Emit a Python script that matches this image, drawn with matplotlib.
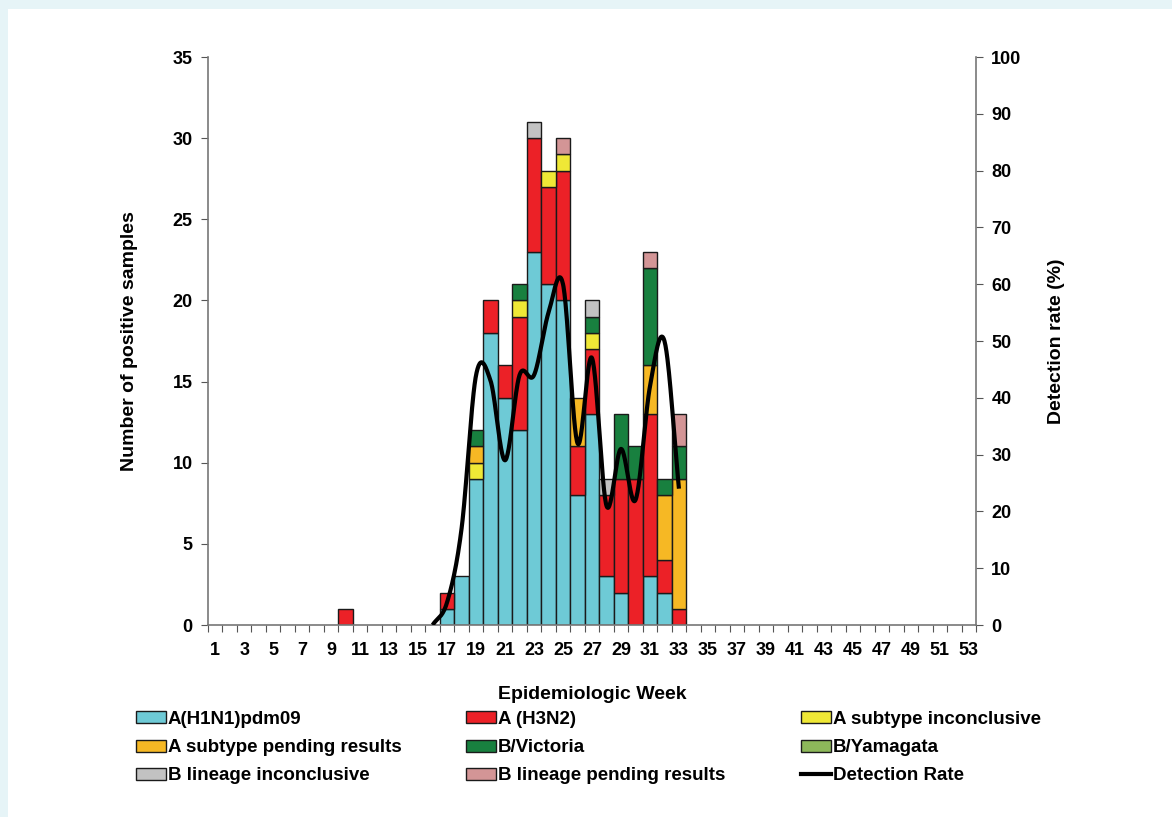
import numpy as np
import matplotlib.pyplot as plt
from matplotlib.patches import Patch, Rectangle
from matplotlib.lines import Line2D

plt.rcParams['font.family'] = ['Liberation Sans', 'DejaVu Sans']
plt.rcParams['font.weight'] = 'bold'

# weeks 1..53, counts only non-zero for the weeks below
weeks = np.arange(1, 54)
data_weeks = [10, 17, 18, 19, 20, 21, 22, 23, 24, 25, 26, 27, 28, 29, 30, 31, 32, 33]
h1n1 =        [0, 1, 3, 9, 18, 14, 12, 23, 21, 20, 8, 13, 3, 2, 0, 3, 2, 0]
h3n2 =        [1, 1, 0, 0, 2, 2, 7, 7, 6, 8, 3, 4, 5, 7, 9, 10, 2, 1]
a_inconcl =   [0, 0, 0, 1, 0, 0, 1, 0, 1, 1, 0, 1, 0, 0, 0, 0, 0, 0]
a_pending =   [0, 0, 0, 1, 0, 0, 0, 0, 0, 0, 3, 0, 0, 0, 0, 3, 4, 8]
b_victoria =  [0, 0, 0, 1, 0, 0, 1, 0, 0, 0, 0, 1, 0, 4, 2, 6, 1, 2]
b_yamagata =  [0, 0, 0, 0, 0, 0, 0, 0, 0, 0, 0, 0, 0, 0, 0, 0, 0, 0]
b_inconcl =   [0, 0, 0, 0, 0, 0, 0, 1, 0, 0, 0, 1, 1, 0, 0, 0, 0, 0]
b_pending =   [0, 0, 0, 0, 0, 0, 0, 0, 0, 1, 0, 0, 0, 0, 0, 1, 0, 2]

rate_weeks = [16, 17, 18, 19, 20, 21, 22, 23, 24, 25, 26, 27, 28, 29, 30, 31, 32, 33]
rate =       [0, 4, 17, 44, 43, 29, 44, 44, 55, 60, 32, 47, 21, 31, 22, 42, 50, 24]

series = [
    ('A(H1N1)pdm09', h1n1, '#6ecad6'),
    ('A (H3N2)', h3n2, '#ec2127'),
    ('A subtype inconclusive', a_inconcl, '#efe836'),
    ('A subtype pending results', a_pending, '#f6b824'),
    ('B/Victoria', b_victoria, '#18803f'),
    ('B/Yamagata', b_yamagata, '#8db85a'),
    ('B lineage inconclusive', b_inconcl, '#c2c2c2'),
    ('B lineage pending results', b_pending, '#d39596'),
]

fig = plt.figure(figsize=(11.72, 8.17), dpi=100)
fig.patch.set_facecolor('#e6f4f7')
fig.patches.append(Rectangle((8 / 1172, 0), 1, 1 - 9 / 817, transform=fig.transFigure,
                             facecolor='white', edgecolor='none', zorder=-1))

ax = fig.add_axes([208 / 1172, 1 - 625 / 817, (976 - 208) / 1172, (625 - 57) / 817])
ax.set_facecolor('white')

bottom = np.zeros(len(data_weeks))
for name, vals, col in series:
    vals = np.array(vals, dtype=float)
    m = vals > 0
    ax.bar(np.array(data_weeks)[m], vals[m], width=1.0, bottom=bottom[m], color=col,
           edgecolor='#1a1a1a', linewidth=1.0, zorder=2)
    bottom += vals

ax.set_xlim(0.5, 53.5)
ax.set_ylim(0, 35)
ax.set_yticks(range(0, 36, 5))
ax.set_xticks(np.arange(0.5, 54, 1))
ax.set_xticklabels([])
ax.set_xticks(weeks[::2], minor=True)
ax.set_xticklabels([str(w) for w in weeks[::2]], minor=True)
ax.tick_params(axis='x', which='minor', length=0, pad=12, labelsize=13)
ax.tick_params(axis='x', which='major', length=5, color='#555555')
ax.tick_params(axis='y', length=5, color='#555555', labelsize=13, pad=6)
for s in ['top', 'right']:
    ax.spines[s].set_visible(False)
for s in ['left', 'bottom']:
    ax.spines[s].set_color('#777777')
    ax.spines[s].set_linewidth(1.2)
ax.set_ylabel('Number of positive samples', fontsize=14, fontweight='bold', labelpad=25)
ax.set_xlabel('Epidemiologic Week', fontsize=14, fontweight='bold', labelpad=20)

# secondary axis, smoothed detection rate line
ax2 = ax.twinx()
ax2.set_ylim(0, 100)
ax2.set_yticks(range(0, 101, 10))
ax2.tick_params(axis='y', length=5, color='#555555', labelsize=13, pad=6)
for s in ['top', 'left', 'bottom']:
    ax2.spines[s].set_visible(False)
ax2.spines['right'].set_color('#777777')
ax2.spines['right'].set_linewidth(1.2)
ax2.set_ylabel('Detection rate (%)', fontsize=14, fontweight='bold', labelpad=19)

# Catmull-Rom smoothing like the spreadsheet "smoothed line"
px = np.array(rate_weeks, dtype=float)
py = np.array(rate, dtype=float)
P = np.column_stack([px, py])
P = np.vstack([P[0] - (P[1] - P[0]), P, P[-1] + (P[-1] - P[-2])])
cx, cy = [], []
t = np.linspace(0, 1, 30)
for i in range(1, len(P) - 2):
    p0, p1, p2, p3 = P[i - 1], P[i], P[i + 1], P[i + 2]
    for tt in t:
        pt = 0.5 * ((2 * p1) + (-p0 + p2) * tt + (2 * p0 - 5 * p1 + 4 * p2 - p3) * tt ** 2
                    + (-p0 + 3 * p1 - 3 * p2 + p3) * tt ** 3)
        cx.append(pt[0])
        cy.append(pt[1])
ax2.plot(cx, np.clip(cy, 0, None), color='black', linewidth=3.0, zorder=5,
         solid_capstyle='butt')

# legend in three columns
handles = []
for name, vals, col in series:
    handles.append(Patch(facecolor=col, edgecolor='#1a1a1a', linewidth=1.0, label=name))
handles.append(Line2D([0], [0], color='black', linewidth=3, label='Detection Rate'))

cols = [[0, 3, 6], [1, 4, 7], [2, 5, 8]]
xpos = [136, 466, 801]
for c, xp in zip(cols, xpos):
    leg = fig.legend([handles[i] for i in c], [handles[i].get_label() for i in c],
                     loc='upper left', bbox_to_anchor=(xp / 1172, 1 - 711 / 817),
                     frameon=False, fontsize=13.5, handlelength=1.6, handleheight=0.6,
                     handletextpad=0.1, labelspacing=0.6, borderaxespad=0, borderpad=0)
    for tx in leg.get_texts():
        tx.set_fontweight('bold')

fig.savefig('out.png', dpi=100, facecolor=fig.get_facecolor())
